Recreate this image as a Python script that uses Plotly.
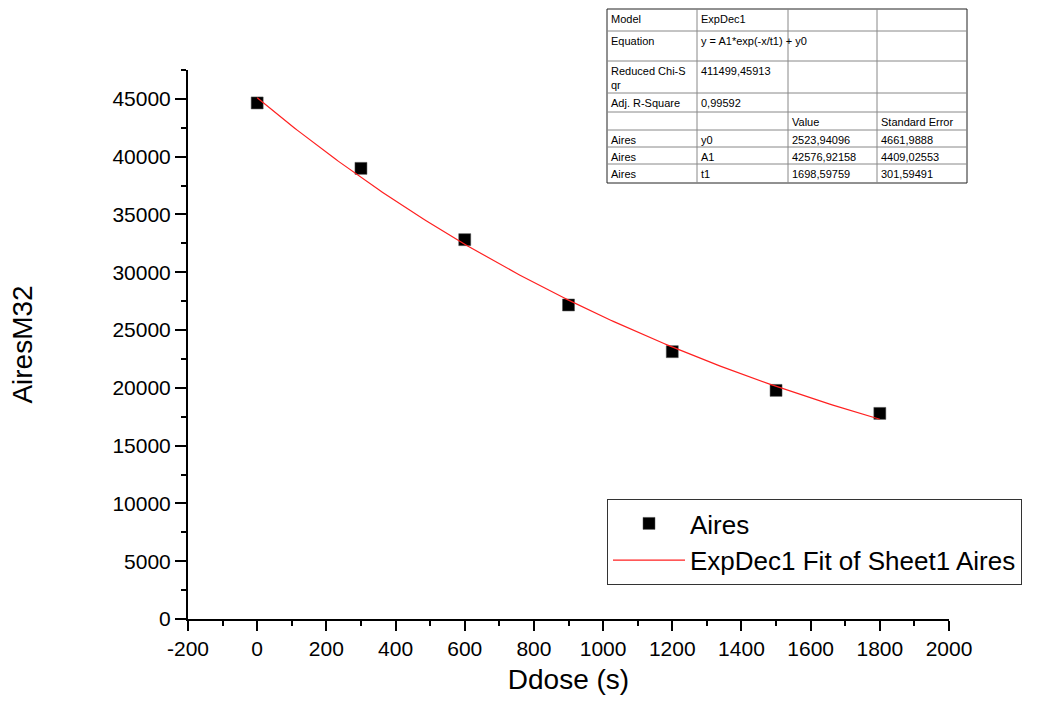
import numpy as np
import plotly.graph_objects as go

# Measured areas vs dose time
ddose = [0, 300, 600, 900, 1200, 1500, 1800]
aires = [44650, 38990, 32820, 27170, 23130, 19780, 17790]

# ExpDec1 fit parameters: y = A1*exp(-x/t1) + y0
y0 = 2523.94096
A1 = 42576.92158
t1 = 1698.59759

# axis ticks
x_ticks = [-200, 0, 200, 400, 600, 800, 1000, 1200, 1400, 1600, 1800, 2000]
x_ticktext = ["-200", "0", "200", "400", "600", "800", "1000", "1200", "1400", "1600", "1800", "2000"]

fit_x = np.linspace(min(ddose), max(ddose), 200)
fit_y = A1 * np.exp(-fit_x / t1) + y0

# Fit report table
table_rows = [
    ["Model", "ExpDec1", "", ""],
    ["Equation", "y = A1*exp(-x/t1) + y0", "", ""],
    ["Reduced Chi-S<br>qr", "411499,45913", "", ""],
    ["Adj. R-Square", "0,99592", "", ""],
    ["", "", "Value", "Standard Error"],
    ["Aires", "y0", "2523,94096", "4661,9888"],
    ["Aires", "A1", "42576,92158", "4409,02553"],
    ["Aires", "t1", "1698,59759", "301,59491"],
]

FONT = "Liberation Sans, Arial, sans-serif"

fig = go.Figure()
fig.add_trace(go.Scatter(
    x=ddose, y=aires, mode="markers", name="Aires",
    marker=dict(symbol="square", size=12, color="black",
                line=dict(color="#555", width=0.5)),
))
fig.add_trace(go.Scatter(
    x=fit_x, y=fit_y, mode="lines", name="ExpDec1 Fit of Sheet1 Aires",
    line=dict(color="#ff2020", width=1.2),
))

# plot area in pixels
L, R, T, B = 188, 949, 70, 619
W, H = R - L, B - T


def px(x):
    return (x - L) / W


def py(y):
    return (B - y) / H


# table grid in pixels
col_edges = [607, 697, 788, 877, 967]
row_edges = [9, 31, 61, 93, 112, 130, 147, 164, 183]

shapes = []
shapes.append(dict(type="rect", xref="paper", yref="paper",
                   x0=px(col_edges[0]), x1=px(col_edges[-1]),
                   y0=py(row_edges[-1]), y1=py(row_edges[0]),
                   line=dict(color="#222", width=1), fillcolor="white", layer="below"))
for cx in col_edges[1:-1]:
    shapes.append(dict(type="line", xref="paper", yref="paper",
                       x0=px(cx), x1=px(cx), y0=py(row_edges[-1]), y1=py(row_edges[0]),
                       line=dict(color="#888", width=1)))
for ry in row_edges[1:-1]:
    shapes.append(dict(type="line", xref="paper", yref="paper",
                       x0=px(col_edges[0]), x1=px(col_edges[-1]), y0=py(ry), y1=py(ry),
                       line=dict(color="#888", width=1)))

annotations = []
for r, row in enumerate(table_rows):
    for c, txt in enumerate(row):
        if not txt:
            continue
        annotations.append(dict(
            text=txt, xref="paper", yref="paper",
            x=px(col_edges[c] + 2), y=py(row_edges[r] + 2),
            xanchor="left", yanchor="top", showarrow=False, align="left",
            font=dict(family=FONT, size=11, color="black"),
        ))

fig.update_layout(
    width=1046, height=706,
    margin=dict(l=L, r=1046 - R, t=T, b=706 - B),
    paper_bgcolor="white", plot_bgcolor="white",
    font=dict(family=FONT, color="black"),
    shapes=shapes, annotations=annotations,
    legend=dict(
        x=px(607), y=py(499), xanchor="left", yanchor="top",
        bordercolor="#333", borderwidth=1, bgcolor="white",
        font=dict(family=FONT, size=26, color="black"),
        tracegroupgap=0, itemwidth=72,
    ),
    xaxis=dict(
        range=[-200, 2000], tickmode="array", tickvals=x_ticks, ticktext=x_ticktext,
        showgrid=False, zeroline=False,
        showline=True, linecolor="black", linewidth=2,
        ticks="outside", ticklen=10, tickwidth=2, tickcolor="black",
        tickfont=dict(family=FONT, size=21, color="black"),
        minor=dict(dtick=100, ticks="outside", ticklen=5, tickwidth=2, tickcolor="black", showgrid=False),
        title=dict(text="Ddose (s)", font=dict(family=FONT, size=28, color="black"), standoff=10),
    ),
    yaxis=dict(
        range=[0, 47500], tick0=0, dtick=5000, tickformat="d",
        showgrid=False, zeroline=False,
        showline=True, linecolor="black", linewidth=2,
        ticks="outside", ticklen=11, tickwidth=2, tickcolor="black",
        tickfont=dict(family=FONT, size=21, color="black"),
        minor=dict(dtick=2500, ticks="outside", ticklen=5, tickwidth=2, tickcolor="black", showgrid=False),
        title=dict(text="AiresM32", font=dict(family=FONT, size=28, color="black"), standoff=72),
    ),
)

fig.write_html("out.html")
